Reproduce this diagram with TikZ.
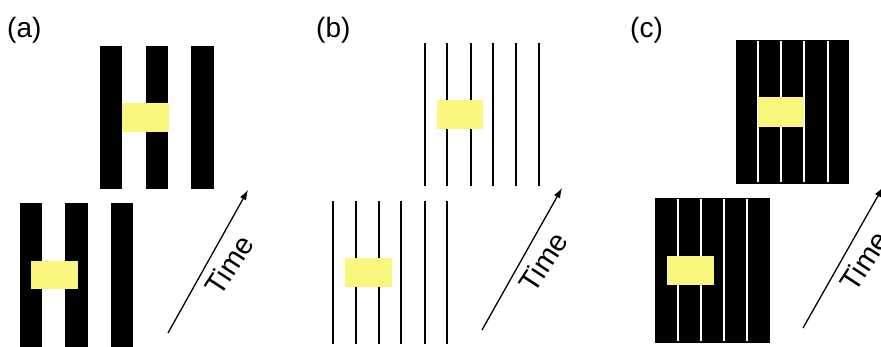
\documentclass[tikz,border=0pt]{standalone}
\usepackage{fontspec}
\setmainfont{Liberation Sans}
\usetikzlibrary{arrows.meta}
\definecolor{patch}{RGB}{249,247,125}
\tikzset{
  lbl/.style={font=\fontsize{28}{32}\selectfont, inner sep=0pt, anchor=base west},
  timelbl/.style={font=\fontsize{29}{32}\selectfont, inner sep=0pt, rotate=57},
  timearrow/.style={line width=1.3pt, -{Latex[length=10pt,width=7pt]}},
  thinline/.style={line width=2pt},
  gapline/.style={white, line width=2pt}
}
\begin{document}
\begin{tikzpicture}[x=1pt,y=-1pt]
  \useasboundingbox (0,0) rectangle (881,347);
  \clip (0,0) rectangle (881,347);

  % (a) wide bars
  \begin{scope}[]
  \node[lbl] (labela) at (7,38) {(a)};
  \fill[black] (100,46) rectangle (122,189);
  \fill[black] (146,46) rectangle (168,189);
  \fill[black] (191,46) rectangle (214,189);
  \fill[patch] (122,103) rectangle (169,132);
  \fill[black] (20,203) rectangle (42,347);
  \fill[black] (65,203) rectangle (88,347);
  \fill[black] (111,203) rectangle (133,347);
  \fill[patch] (31,261) rectangle (78,289);
  \coordinate (taila) at (168,333);
  \coordinate (heada) at (248,190);
  \draw[timearrow] (taila) -- (heada);
  \node[timelbl] (timea) at (229,265) {Time};
  \end{scope}

  % (b) thin lines
  \begin{scope}[]
  \node[lbl] (labelb) at (316,38) {(b)};
  \draw[thinline] (425,43) -- (425,186);
  \draw[thinline] (447,43) -- (447,186);
  \draw[thinline] (471,43) -- (471,186);
  \draw[thinline] (493,43) -- (493,186);
  \draw[thinline] (516,43) -- (516,186);
  \draw[thinline] (539,43) -- (539,186);
  \fill[patch] (437,100) rectangle (483,129);
  \draw[thinline] (333,201) -- (333,344);
  \draw[thinline] (356,201) -- (356,344);
  \draw[thinline] (379,201) -- (379,344);
  \draw[thinline] (401,201) -- (401,344);
  \draw[thinline] (425,201) -- (425,344);
  \draw[thinline] (447,201) -- (447,344);
  \fill[patch] (345,258) rectangle (392,287);
  \coordinate (tailb) at (482,330);
  \coordinate (headb) at (562,188);
  \draw[timearrow] (tailb) -- (headb);
  \node[timelbl] (timeb) at (543,262) {Time};
  \end{scope}

  % (c) black blocks with white gaps
  \begin{scope}[]
  \node[lbl] (labelc) at (630,38) {(c)};
  \fill[black] (736,40) rectangle (849,184);
  \draw[gapline] (758,41.5) -- (758,182.5);
  \draw[gapline] (781,41.5) -- (781,182.5);
  \draw[gapline] (804,41.5) -- (804,182.5);
  \draw[gapline] (828,41.5) -- (828,182.5);
  \fill[patch] (758,97) rectangle (804,127);
  \fill[black] (655,198) rectangle (770,343);
  \draw[gapline] (678,199.5) -- (678,341.5);
  \draw[gapline] (701,199.5) -- (701,341.5);
  \draw[gapline] (724,199.5) -- (724,341.5);
  \draw[gapline] (747,199.5) -- (747,341.5);
  \fill[patch] (667,256) rectangle (714,285);
  \coordinate (tailc) at (803,328);
  \coordinate (headc) at (883,187);
  \draw[timearrow] (tailc) -- (headc);
  \node[timelbl] (timec) at (864,261) {Time};
  \end{scope}
\end{tikzpicture}
\end{document}
